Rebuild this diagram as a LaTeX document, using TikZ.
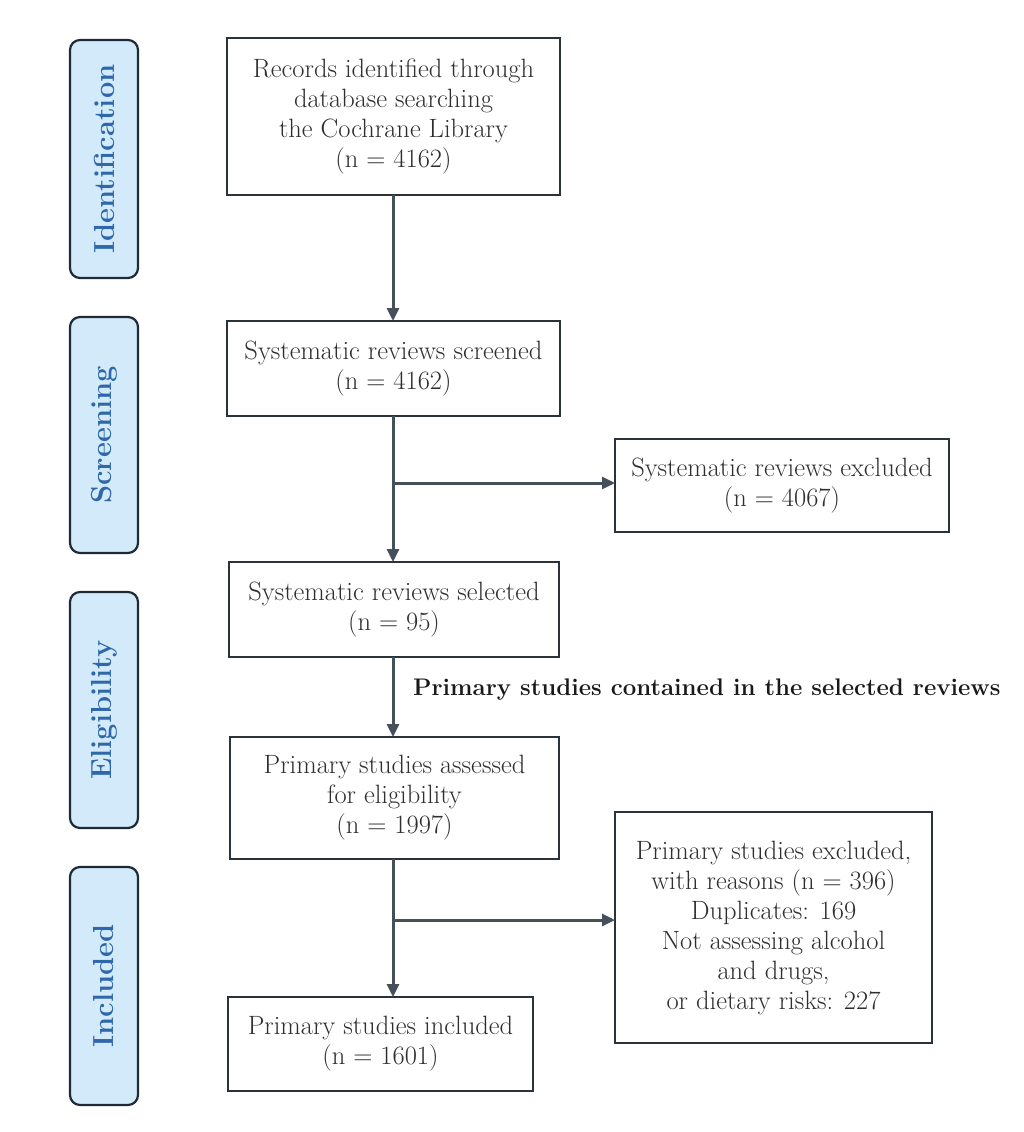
\documentclass[tikz,border=0pt]{standalone}
\usetikzlibrary{arrows.meta}
\definecolor{boxline}{HTML}{2A323B}
\definecolor{arrowline}{HTML}{46505A}
\definecolor{sidefill}{HTML}{D3EAFA}
\definecolor{sidetext}{HTML}{2F68AA}
\definecolor{sideline}{HTML}{1E2A36}
\tikzset{
  stagebox/.style={draw=boxline, line width=2.6pt, fill=white, align=center, inner sep=3pt, outer sep=0pt,
    font=\fontsize{26.5}{30}\selectfont, text=black!82},
  sidebox/.style={draw=sideline, line width=2.2pt, fill=sidefill, rounded corners=10pt, minimum width=68pt,
    outer sep=0pt},
  sidetextstyle/.style={rotate=90, font=\bfseries\fontsize{29}{32}\selectfont, text=sidetext},
  flow/.style={draw=arrowline, line width=3pt, -{Triangle[width=12pt,length=13pt]}},
}
\begin{document}
\begin{tikzpicture}[x=1pt,y=-1pt]
\useasboundingbox (0,0) rectangle (1024,1132);
% side labels
\node[sidebox, minimum height=238pt] (s1) at (104,159) {};
\node[sidetextstyle] (t1) at (s1.center) {Identification};
\node[sidebox, minimum height=236pt] (s2) at (104,435) {};
\node[sidetextstyle] (t2) at (s2.center) {Screening};
\node[sidebox, minimum height=236pt] (s3) at (104,710) {};
\node[sidetextstyle] (t3) at (s3.center) {Eligibility};
\node[sidebox, minimum height=238pt] (s4) at (104,986) {};
\node[sidetextstyle] (t4) at (s4.center) {Included};
% main boxes
\node[stagebox, minimum width=333pt, minimum height=157pt] (b1) at (393.5,116.5)
  {Records identified through\\database searching\\the Cochrane Library\\(n = 4162)};
\node[stagebox, minimum width=333pt, minimum height=95pt] (b2) at (393.5,368.5)
  {Systematic reviews screened\\(n = 4162)};
\node[stagebox, minimum width=330pt, minimum height=95pt] (b3) at (394,609.5)
  {Systematic reviews selected\\(n = 95)};
\node[stagebox, minimum width=329pt, minimum height=122pt] (b4) at (394.5,798)
  {Primary studies assessed\\for eligibility\\(n = 1997)};
\node[stagebox, minimum width=305pt, minimum height=94pt] (b5) at (380.5,1044)
  {Primary studies included\\(n = 1601)};
\node[stagebox, minimum width=334pt, minimum height=93pt] (e1) at (782,485.5)
  {Systematic reviews excluded\\(n = 4067)};
\node[stagebox, minimum width=317pt, minimum height=231pt] (e2) at (773.5,927.5)
  {Primary studies excluded,\\with reasons (n = 396)\\Duplicates: 169\\Not assessing alcohol\\and drugs,\\or dietary risks: 227};
% label
\node[anchor=west, font=\bfseries\fontsize{24}{28}\selectfont, text=black!90, inner sep=0pt] (lbl) at (413,690)
  {Primary studies contained in the selected reviews};
% connectors
\coordinate (br1) at (393,483);
\coordinate (br2) at (393,920);
\draw[flow] (b1.south -| br1) -- (b2.north -| br1);
\draw[flow] (b2.south -| br1) -- (b3.north -| br1);
\draw[flow] (br1) -- (br1 -| e1.west);
\draw[flow] (b3.south -| br1) -- (b4.north -| br1);
\draw[flow] (b4.south -| br2) -- (b5.north -| br2);
\draw[flow] (br2) -- (br2 -| e2.west);
\end{tikzpicture}
\end{document}
